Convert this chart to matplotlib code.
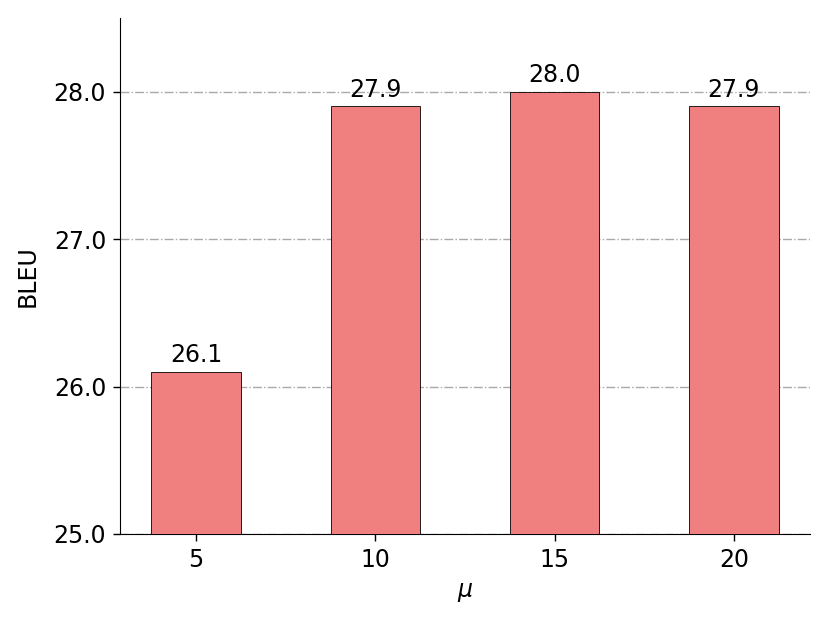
import numpy as np
import matplotlib
matplotlib.use('Agg')
import matplotlib.pyplot as plt

mu = ['5', '10', '15', '20']
bleu = [26.1, 27.9, 28.0, 27.9]

fig = plt.figure(figsize=(8.3, 6.23), dpi=100)
ax = fig.add_axes([0.1446, 0.1429, 0.8314, 0.8282])

x = np.arange(len(mu))
ax.bar(x, bleu, width=0.5, color='lightcoral', edgecolor='black', linewidth=0.6, zorder=3)
for xi, v in zip(x, bleu):
    ax.text(xi, v + 0.03, '{:.1f}'.format(v), ha='center', va='bottom', fontsize=17, zorder=4)

ax.set_ylim(25.0, 28.5)
ax.set_yticks([25.0, 26.0, 27.0, 28.0])
ax.set_yticklabels(['25.0', '26.0', '27.0', '28.0'])
ax.set_xticks(x)
ax.set_xticklabels(mu)
ax.tick_params(labelsize=17, length=5, width=1, pad=5)
ax.set_xlabel(r'$\mu$', fontsize=17, labelpad=6)
ax.set_ylabel('BLEU', fontsize=17, labelpad=10)
ax.yaxis.grid(True, linestyle='-.', color='darkgray', linewidth=1, zorder=0)
ax.spines['top'].set_visible(False)
ax.spines['right'].set_visible(False)

fig.savefig('out.png', dpi=100)
